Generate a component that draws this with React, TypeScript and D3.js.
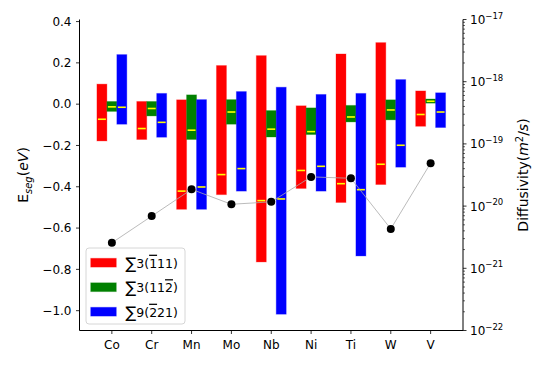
import React from 'react';
import * as d3 from 'd3';

const categories = ['Co', 'Cr', 'Mn', 'Mo', 'Nb', 'Ni', 'Ti', 'W', 'V'];

// Σ3(-1 1 1)
const redMax = [0.097, 0.013, 0.021, 0.187, 0.235, -0.008, 0.243, 0.298, 0.064];
const redMin = [-0.178, -0.171, -0.509, -0.438, -0.764, -0.408, -0.476, -0.389, -0.107];
const redMean = [-0.073, -0.118, -0.421, -0.341, -0.467, -0.321, -0.385, -0.291, -0.05];

// Σ3(1 1 -2)
const greenMax = [0.013, 0.013, 0.045, 0.022, -0.031, -0.018, -0.006, 0.021, 0.025];
const greenMin = [-0.035, -0.057, -0.171, -0.097, -0.159, -0.147, -0.086, -0.076, 0.005];
const greenMean = [-0.013, -0.021, -0.126, -0.038, -0.121, -0.133, -0.062, -0.028, 0.014];

// Σ9(-2 2 1)
const blueMax = [0.24, 0.052, 0.022, 0.061, 0.082, 0.047, 0.052, 0.119, 0.055];
const blueMin = [-0.097, -0.16, -0.509, -0.421, -1.017, -0.421, -0.735, -0.305, -0.113];
const blueMean = [-0.015, -0.088, -0.401, -0.312, -0.459, -0.301, -0.414, -0.199, -0.038];

const diffusivity = [2.57e-21, 6.9e-21, 1.86e-20, 1.07e-20, 1.17e-20, 2.95e-20, 2.8e-20, 4.3e-21, 4.9e-20];

const yTicks = [0.4, 0.2, 0.0, -0.2, -0.4, -0.6, -0.8, -1.0];
const rightExps = [-17, -18, -19, -20, -21, -22];

const W = 548, H = 366;
const left = 79.5, right = 463, top = 19.5, bottom = 330.5;
const font = 'DejaVu Sans, sans-serif';

const x = d3.scaleLinear().domain([-0.8125, 8.8125]).range([left, right]);
const y = d3.scaleLinear().domain([-1.096, 0.41]).range([bottom, top]);
const yR = d3.scaleLog().domain([1e-22, 1e-17]).range([bottom, top]);

const barW = 0.25;
const series = [
  { min: redMin, max: redMax, mean: redMean, color: '#ff0000', off: -0.25 },
  { min: greenMin, max: greenMax, mean: greenMean, color: '#008000', off: 0 },
  { min: blueMin, max: blueMax, mean: blueMean, color: '#0000ff', off: 0.25 },
];

// legend labels: sigma value and Miller indices, true = barred digit
const legendItems: { color: string; n: string; parts: [string, boolean][] }[] = [
  { color: '#ff0000', n: '3', parts: [['1', true], ['1', false], ['1', false]] },
  { color: '#008000', n: '3', parts: [['1', false], ['1', false], ['2', true]] },
  { color: '#0000ff', n: '9', parts: [['2', true], ['2', false], ['1', false]] },
];

export default function App() {
  const minorTicks: number[] = [];
  for (let e = -22; e < -17; e++) {
    for (let k = 2; k <= 9; k++) minorTicks.push(k * Math.pow(10, e));
  }
  const line = d3.line<number>().x((_, i) => x(i)).y(d => yR(d));
  const bw = x(barW) - x(0);

  return (
    <svg width={W} height={H} style={{ position: 'absolute', left: 0, top: 0 }} fontFamily={font}>
      <rect width={W} height={H} fill="#fff" />
      {/* bars */}
      {series.map((s, si) =>
        categories.map((c, i) => {
          const cx = x(i + s.off);
          const y0 = y(s.max[i]);
          const y1 = y(s.min[i]);
          return (
            <g key={`${si}-${c}`}>
              <rect x={cx - bw / 2} y={y0} width={bw} height={y1 - y0} fill={s.color}
                stroke={s.color} strokeOpacity={0.3} strokeWidth={1} />
              <line x1={cx - bw / 2 + 1} x2={cx + bw / 2 - 1} y1={y(s.mean[i])} y2={y(s.mean[i])}
                stroke="#ffff00" strokeWidth={1.6} />
            </g>
          );
        })
      )}
      {/* diffusivity */}
      <path d={line(diffusivity) || ''} fill="none" stroke="#aaaaaa" strokeWidth={0.8} />
      {diffusivity.map((d, i) => (
        <circle key={i} cx={x(i)} cy={yR(d)} r={4} fill="#000" />
      ))}
      {/* spines */}
      <line x1={left} x2={left} y1={top} y2={bottom} stroke="#000" strokeWidth={1} />
      <line x1={right} x2={right} y1={top} y2={bottom} stroke="#000" strokeWidth={1} />
      <line x1={left} x2={right} y1={bottom} y2={bottom} stroke="#000" strokeWidth={1} />
      {/* left ticks */}
      {yTicks.map(t => (
        <g key={t}>
          <line x1={left - 3.5} x2={left} y1={y(t)} y2={y(t)} stroke="#000" strokeWidth={0.8} />
          <text x={left - 8} y={y(t)} dy="0.35em" textAnchor="end" fontSize={12}>
            {t < 0 ? '\u2212' + Math.abs(t).toFixed(1) : t.toFixed(1)}
          </text>
        </g>
      ))}
      {/* x ticks */}
      {categories.map((c, i) => (
        <g key={c}>
          <line x1={x(i)} x2={x(i)} y1={bottom} y2={bottom + 3.5} stroke="#000" strokeWidth={0.8} />
          <text x={x(i)} y={bottom + 18.5} textAnchor="middle" fontSize={12}>{c}</text>
        </g>
      ))}
      {/* right ticks */}
      {minorTicks.map((t, i) => (
        <line key={i} x1={right} x2={right + 2} y1={yR(t)} y2={yR(t)} stroke="#000" strokeWidth={0.6} />
      ))}
      {rightExps.map(e => (
        <g key={e}>
          <line x1={right} x2={right + 3.5} y1={yR(Math.pow(10, e))} y2={yR(Math.pow(10, e))} stroke="#000" strokeWidth={0.8} />
          <text x={right + 7} y={yR(Math.pow(10, e)) + 4.5} fontSize={12}>
            10<tspan dy={-5.5} fontSize={8.5}>{'\u2212' + Math.abs(e)}</tspan>
          </text>
        </g>
      ))}
      {/* axis labels */}
      <text transform={`translate(28,${(top + bottom) / 2}) rotate(-90)`} textAnchor="middle" fontSize={14}>
        E<tspan dy={3.5} fontSize={10} fontStyle="italic">seg</tspan>
        <tspan dy={-3.5}>(</tspan><tspan fontStyle="italic">eV</tspan>)
      </text>
      <text transform={`translate(528,${(top + bottom) / 2}) rotate(-90)`} textAnchor="middle" fontSize={14}>
        Diffusivity(<tspan fontStyle="italic">m</tspan><tspan dy={-5} fontSize={10}>2</tspan>
        <tspan dy={5}>/</tspan><tspan fontStyle="italic">s</tspan>)
      </text>
      {/* legend */}
      <rect x={86} y={248} width={99} height={76} rx={3} fill="#fff" fillOpacity={0.8} stroke="#cccccc" strokeWidth={0.8} />
      {legendItems.map((it, k) => {
        const cy = 262.7 + k * 24.5;
        return (
          <g key={k}>
            <rect x={90.7} y={cy - 4.4} width={25.6} height={8.8} fill={it.color} stroke={it.color} strokeOpacity={0.3} />
            <text x={125.5} y={cy + 5} fontSize={12.5}>
              <tspan fontSize={16} dy={1}>{'\u2211'}</tspan>
              <tspan dy={-1}>{it.n}(</tspan>
              {it.parts.map(([d, bar], j) => (
                <tspan key={j} textDecoration={bar ? 'overline' : undefined}
                  style={bar ? { textDecoration: 'overline' } : undefined}>{d}</tspan>
              ))}
              <tspan>)</tspan>
            </text>
          </g>
        );
      })}
    </svg>
  );
}
